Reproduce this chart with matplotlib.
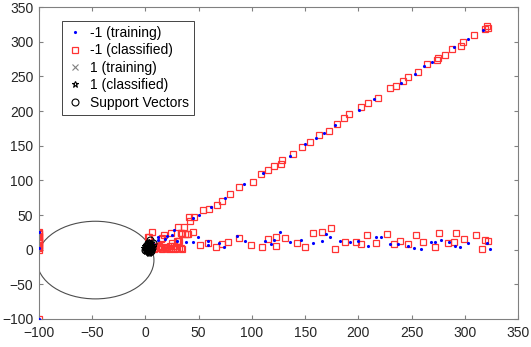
import matplotlib.pyplot as plt
from matplotlib.patches import Ellipse

plt.rcParams['font.family'] = ['Liberation Sans', 'DejaVu Sans']
plt.rcParams['font.size'] = 10

# ---------------------------------------------------------------------------
# Data
# ---------------------------------------------------------------------------
# class -1, training (blue dots)
neg_train_x = [-100, -100, -100,
               7, 12, 20, 27, 45, 50, 61.7, 74.5, 92.7, 110, 135.8, 150, 160, 168, 178,
               200.6, 215, 240, 253, 262, 269, 290, 302.6, 316.7,
               38, 44.4, 49, 59, 59, 69.5, 74, 86, 94, 112, 118, 121, 126.5, 136,
               145.8, 157, 166, 169.7, 173.4, 182.8, 192, 200, 209, 217, 221, 229.8,
               237, 246.3, 252, 259, 268, 272, 278, 284.8, 290.4, 295.5, 303, 320.5,
               323.3, 12, 18, 25, 30]
neg_train_y = [-100, 3, 25,
               9, 14, 20, 28, 46, 50, 62, 74.6, 94.8, 111, 135.6, 152, 161, 169, 180,
               202, 217, 241, 254, 265.5, 271, 292, 304.5, 317,
               10.6, 11.5, 18.8, 12.5, 6.3, 9.6, 3.4, 19.2, 13, 12, 8.2, 14, 25.5, 11.5,
               14, 10, 12, 22, 17.8, 12.5, 10.6, 12, 5.8, 17.8, 17.8, 7.7,
               7.7, 4.8, 2.9, 1.4, 11, 11, 14, 11, 5.3, 3.9, 10, 9.6,
               1.4, 19, 15, 21, 12]

# class -1, classified (red squares)
neg_cls_x = [-100, -100, -100, -100, -100, -100, -100, -100, -100, -100, -100, -100,
             -100, -100, -100, -100,
             2.2, 6, 16, 30, 33.5, 37, 36, 41, 46, 42, 54.5, 59.4, 67.3, 71.6, 79.2, 88,
             101.4, 109, 114.8, 120.8, 127, 128.4, 138.7, 147, 155, 163, 172, 180,
             187, 191.3, 202.8, 208.7,
             218.8, 229.4, 235.4, 241.6, 247, 255.7, 264.8, 274, 275, 281.4, 288,
             296.7, 298.6, 309, 319, 320.8, 322,
             3.8, 17.5, 24, 31, 34, 39.7, 25, 31, 15, 33, 39.4, 45, 32, 33,
             51.6, 66, 58.5, 71.7, 78, 88, 99.5, 109.5, 115, 123, 123, 131, 142.4,
             149.6, 157.7, 166, 174, 177.8, 187.8, 197.8, 202.5, 208, 217, 226.6,
             233.8, 238.8, 246.6, 253.8, 261, 271.7, 275.7, 283.9, 290, 291.4, 299.5,
             310.8, 315.8, 319, 322,
             6, 8, 10, 12, 14, 16, 18, 20, 22, 24, 26, 28, 30, 32, 34, 9, 13, 19, 23, 27]
neg_cls_y = [-100, 0, 2, 4, 5, 7, 9, 11, 12, 14, 16, 18, 20, 22, 24, 26,
             18, 25.5, 17, 13, 24, 23, 32.7, 47, 47, 41.4, 57.7, 59, 64, 70.7, 80.4, 90.9,
             98.1, 109, 115.4, 120.2, 124, 128.9, 138.5, 148, 156, 165, 171, 182,
             190, 196, 205.3, 211.7,
             218.9, 232.8, 235.7, 242.9, 248.6, 256, 268, 273, 276.6, 281, 290,
             294, 300, 310, 318, 322, 320,
             18.3, 20.6, 24.5, 33, 23, 22, 9.6, 12.5, 15.9, 2, 22.6, 26, 12, 24,
             6.8, 3.9, 9.6, 7.7, 11, 16.8, 7.2, 3.4, 15.4, 5.3, 18.8, 16.4, 9.1,
             3.4, 23.6, 26, 30.8, 0.5, 11, 11, 8.2, 21.6, 10, 22.6,
             7.7, 13, 8.7, 21.2, 10.6, 3.4, 23.6, 9.1, 11, 23.6, 15.4,
             20.7, 1.4, 14, 13,
             2, 1, 3, 2, 4, 1, 3, 2, 1, 3, 2, 1, 2, 3, 1, 6, 5, 4, 6, 5]

# class 1, training (grey crosses)
pos_train_x = [1, 3, 5, 2, 6]
pos_train_y = [2, 6, 1, -2, 8]

# class 1, classified (black stars)
pos_cls_x = [0, 1, 2, 3, 4, 5, 6, 7, 1, 2, 3, 4, 5, 6, 0, 2, 4, 6, -1, 3, 5, 1, 3]
pos_cls_y = [0, 2, 4, 1, 3, 5, 2, 4, -2, -3, 6, 8, -1, 7, 5, 9, -4, 0, 3, -5, 10, 7, 11]

# support vectors (black circles)
sv_x = [2, 4, 1, 6, 5, 0, 3, 7, 3]
sv_y = [10, 14, 5, 3, -2, 0, 8, 9, -4]

# decision boundary (ellipse) in data units
boundary_center = (-47, -15)
boundary_width = 110
boundary_height = 112

# ---------------------------------------------------------------------------
# Figure
# ---------------------------------------------------------------------------
fig = plt.figure(figsize=(5.31, 3.47), dpi=100)
ax = fig.add_axes([0.0734, 0.0807, 0.9021, 0.899])

ax.add_patch(Ellipse(boundary_center, boundary_width, boundary_height,
                     fill=False, ec='#4d4d4d', lw=0.8, zorder=1))

h1, = ax.plot(neg_train_x, neg_train_y, ls='none', marker='.', ms=2.5,
              color='#0000ff', label='-1 (training)', zorder=3)
h2, = ax.plot(neg_cls_x, neg_cls_y, ls='none', marker='s', ms=4.5, mew=0.9,
              mfc='none', mec='#ff3333', label='-1 (classified)', zorder=2)
h3, = ax.plot(pos_train_x, pos_train_y, ls='none', marker='x', ms=4, mew=0.8,
              color='#808080', label='1 (training)', zorder=4)
h4, = ax.plot(pos_cls_x, pos_cls_y, ls='none', marker='*', ms=5, mew=0.8,
              mfc='none', mec='black', label='1 (classified)', zorder=4)
h5, = ax.plot(sv_x, sv_y, ls='none', marker='o', ms=5, mew=0.8,
              mfc='none', mec='black', label='Support Vectors', zorder=5)

ax.set_xlim(-100, 350)
ax.set_ylim(-100, 350)
ax.set_xticks(range(-100, 351, 50))
ax.set_yticks(range(-100, 351, 50))

ax.tick_params(direction='in', top=True, right=True, length=3,
               color='#808080', labelcolor='#262626', labelsize=10)
ax.tick_params(axis='x', pad=5)
ax.tick_params(axis='y', pad=4)
for s in ax.spines.values():
    s.set_color('#808080')
    s.set_linewidth(0.8)

leg = ax.legend(handles=[h1, h2, h3, h4, h5], loc='upper left',
                bbox_to_anchor=(0.048, 0.955), borderaxespad=0,
                fancybox=False, framealpha=1, edgecolor='#262626',
                fontsize=10, handlelength=1.2, handletextpad=0.5,
                labelspacing=0.25, borderpad=0.35, markerscale=1.0)
leg.get_frame().set_linewidth(0.6)

plt.savefig('out.png', dpi=100)
plt.close()
